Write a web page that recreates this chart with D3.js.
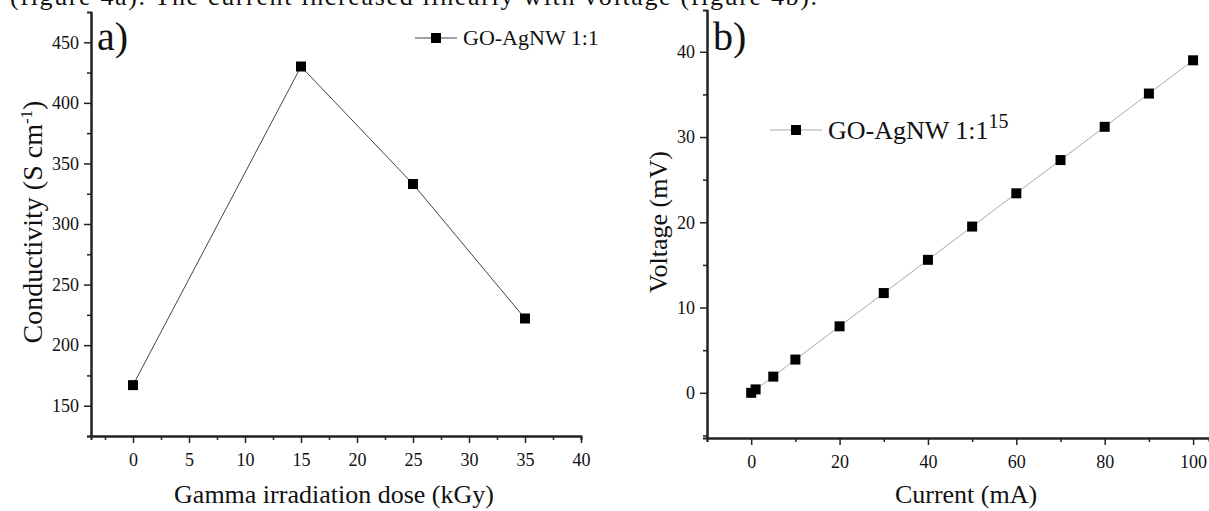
<!DOCTYPE html>
<html>
<head>
<meta charset="utf-8">
<script src="https://cdn.jsdelivr.net/npm/d3@7"></script>
<style>
  body { margin: 0; background: white; }
  svg { display: block; }
  svg text { font-family: "Liberation Serif", "Times New Roman", serif; fill: #111; }
</style>
</head>
<body>
<svg width="1209" height="511"></svg>
<script>
// panel a data
var doseKGy = [0, 15, 25, 35];
var conductivity = [167, 430, 333, 222];
var doseTicks = [0, 5, 10, 15, 20, 25, 30, 35, 40];
var condTicks = [150, 200, 250, 300, 350, 400, 450];

// panel b data
var currentMA = [0, 1, 5, 10, 20, 30, 40, 50, 60, 70, 80, 90, 100];
var voltageMV = [0, 0.4, 1.9, 3.9, 7.8, 11.7, 15.6, 19.5, 23.4, 27.3, 31.2, 35.1, 39];
var currentTicks = [0, 20, 40, 60, 80, 100];
var voltageTicks = [0, 10, 20, 30, 40];

var MARKER = 10;
var svg = d3.select('svg');

// caption line cut off at the top of the picture
svg.append('text')
  .attr('x', 10)
  .attr('y', 5)
  .attr('textLength', 807)
  .attr('font-size', 26)
  .text('(figure 4a). The current increased linearly with voltage (figure 4b).');

var drawPanel = function (opt) {
  var g = svg.append('g');
  var x = d3.scaleLinear().domain(opt.xDomain).range(opt.xRange);
  var y = d3.scaleLinear().domain(opt.yDomain).range(opt.yRange);

  var xAxisMinor = d3.axisBottom(x).tickValues(opt.xMinor).tickSize(4).tickFormat('');
  var yAxisMinor = d3.axisLeft(y).tickValues(opt.yMinor).tickSize(4).tickFormat('');
  var xAxis = d3.axisBottom(x).tickValues(opt.xTicks).tickSize(7).tickPadding(10).tickSizeOuter(0);
  var yAxis = d3.axisLeft(y).tickValues(opt.yTicks).tickSize(7).tickPadding(5).tickSizeOuter(0);

  var axes = [];
  [xAxisMinor, xAxis].forEach(function (ax) {
    axes.push(g.append('g').attr('transform', 'translate(0,' + opt.yRange[0] + ')').call(ax));
  });
  [yAxisMinor, yAxis].forEach(function (ax) {
    axes.push(g.append('g').attr('transform', 'translate(' + opt.xRange[0] + ',0)').call(ax));
  });
  axes.forEach(function (a) {
    a.attr('font-size', 18);
    a.selectAll('path.domain').attr('stroke', '#222').attr('stroke-width', 2);
    a.selectAll('.tick line').attr('stroke', '#222').attr('stroke-width', 1.5);
  });

  var line = d3.line()
    .x(function (d, i) { return x(opt.xs[i]); })
    .y(function (d) { return y(d); });
  g.append('path')
    .datum(opt.ys)
    .attr('d', line)
    .attr('fill', 'none')
    .attr('stroke', opt.lineColor)
    .attr('stroke-width', 1);

  g.selectAll('rect.pt')
    .data(opt.ys)
    .enter().append('rect')
    .attr('class', 'pt')
    .attr('x', function (d, i) { return x(opt.xs[i]) - MARKER / 2; })
    .attr('y', function (d) { return y(d) - MARKER / 2; })
    .attr('width', MARKER)
    .attr('height', MARKER)
    .attr('fill', 'black');

  // panel label
  g.append('text')
    .attr('x', opt.xRange[0] + 6)
    .attr('y', 50)
    .attr('font-size', 40)
    .text(opt.label);

  // axis titles
  g.append('text')
    .attr('x', opt.xTitleX)
    .attr('y', 503)
    .attr('text-anchor', 'middle')
    .attr('font-size', 26)
    .text(opt.xTitle);

  var yt = g.append('text')
    .attr('transform', 'translate(' + opt.yTitleX + ',' + opt.yTitleY + ') rotate(-90)')
    .attr('text-anchor', 'middle')
    .attr('font-size', opt.yTitleSize);
  yt.append('tspan').text(opt.yTitle);
  if (opt.yTitleSup) {
    yt.append('tspan').attr('dy', -10).attr('font-size', 17).text(opt.yTitleSup);
    yt.append('tspan').attr('dy', 10).text(')');
  }

  // legend
  var lw = opt.legendW;
  var lg = g.append('g').attr('transform', 'translate(' + opt.legend[0] + ',' + opt.legend[1] + ')');
  lg.append('line').attr('x1', 0).attr('x2', lw).attr('y1', 0).attr('y2', 0)
    .attr('stroke', opt.lineColor).attr('stroke-width', 1);
  lg.append('rect').attr('x', lw / 2 - MARKER / 2).attr('y', -MARKER / 2)
    .attr('width', MARKER).attr('height', MARKER).attr('fill', 'black');
  var lt = lg.append('text').attr('x', lw + 6).attr('y', opt.legendSize * 0.33)
    .attr('font-size', opt.legendSize);
  lt.append('tspan').text('GO-AgNW 1:1');
  if (opt.legendSup) {
    lt.append('tspan').attr('dy', -11).attr('font-size', 20).text(opt.legendSup);
  }
};

drawPanel({
  xs: doseKGy, ys: conductivity,
  xDomain: [-3.75, 40], xRange: [91, 581],
  yDomain: [125, 475], yRange: [436, 12],
  xTicks: doseTicks, yTicks: condTicks,
  xMinor: d3.range(-2.5, 40, 5), yMinor: d3.range(125, 475, 50),
  lineColor: '#444',
  label: 'a)',
  xTitle: 'Gamma irradiation dose (kGy)', xTitleX: 334,
  yTitle: 'Conductivity (S cm', yTitleSup: '-1', yTitleX: 42, yTitleY: 222, yTitleSize: 28,
  legend: [415, 38], legendW: 42, legendSize: 22
});

drawPanel({
  xs: currentMA, ys: voltageMV,
  xDomain: [-10, 103.6], xRange: [707, 1209],
  yDomain: [-5.3, 44.9], yRange: [438, 10],
  xTicks: currentTicks, yTicks: voltageTicks,
  xMinor: d3.range(-10, 104, 20), yMinor: d3.range(-5, 45, 10),
  lineColor: '#aaa',
  label: 'b)',
  xTitle: 'Current (mA)', xTitleX: 966,
  yTitle: 'Voltage (mV)', yTitleX: 667, yTitleY: 222, yTitleSize: 26,
  legend: [770, 130], legendW: 52, legendSize: 26, legendSup: '15'
});
</script>
</body>
</html>
